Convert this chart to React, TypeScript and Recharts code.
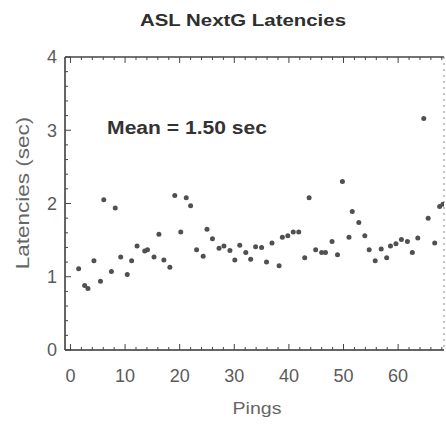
import { Scatter, ScatterChart, XAxis, YAxis } from 'recharts'

// ping index and latency in seconds
const pings = [
	1.5, 2.6, 3.2, 4.3, 5.5, 6.1, 7.5, 8.2, 9.2, 10.4, 11.2, 12.2, 13.6, 14.1, 15.3,
	16.2, 17.1, 18.2, 19.1, 20.2, 21.2, 22.0, 23.1, 24.3, 25.0, 26.0, 27.2, 28.1, 29.2,
	30.1, 31.0, 32.1, 33.0, 33.9, 35.0, 35.9, 36.9, 38.2, 38.8, 39.8, 40.8, 41.8, 42.9,
	43.7, 44.9, 46.0, 46.7, 47.9, 48.9, 49.8, 51.0, 51.6, 52.8, 53.9, 54.7, 55.8, 56.9,
	57.9, 58.6, 59.6, 60.6, 61.7, 62.6, 63.6, 64.7, 65.5, 66.7, 67.6, 68.2,
]
const latencies = [
	1.11, 0.88, 0.84, 1.22, 0.94, 2.05, 1.07, 1.94, 1.27, 1.03, 1.22, 1.42, 1.35, 1.37,
	1.27, 1.58, 1.23, 1.13, 2.11, 1.61, 2.08, 1.97, 1.37, 1.28, 1.65, 1.52, 1.39, 1.42,
	1.36, 1.23, 1.43, 1.33, 1.24, 1.41, 1.4, 1.2, 1.46, 1.15, 1.54, 1.56, 1.61, 1.61,
	1.26, 2.08, 1.37, 1.33, 1.33, 1.48, 1.3, 2.3, 1.54, 1.89, 1.74, 1.56, 1.37, 1.22,
	1.38, 1.26, 1.42, 1.45, 1.51, 1.48, 1.33, 1.53, 3.16, 1.8, 1.46, 1.96, 1.99,
]

const xTicks = [0, 10, 20, 30, 40, 50, 60]
const yTicks = [0, 1, 2, 3, 4]
const xMinor = Array.from({ length: 35 }, (_, i) => i * 2)
const yMinor = Array.from({ length: 21 }, (_, i) => Math.round(i * 2) / 10)

const data = pings.map((p, i) => ({ ping: p, latency: latencies[i] }))

const font = "'Liberation Sans', Arial, sans-serif"
const tickColor = '#5a5a5a'

const isMajor = (v: number, list: number[]) => list.some((t) => Math.abs(t - v) < 1e-6)

function BottomTick(props: any) {
	const { x, y, payload } = props
	const major = isMajor(payload.value, xTicks)
	return (
		<g>
			<line x1={x} x2={x} y1={y} y2={y - (major ? 6 : 3)} stroke='#444' />
			{major && (
				<text x={x} y={y + 19} dy='0.71em' textAnchor='middle' fontSize={18} fill={tickColor} fontFamily={font}>
					{payload.value}
				</text>
			)}
		</g>
	)
}

function TopTick(props: any) {
	const { x, y, payload } = props
	const major = isMajor(payload.value, xTicks)
	return <line x1={x} x2={x} y1={y} y2={y + (major ? 6 : 3)} stroke='#444' />
}

function LeftTick(props: any) {
	const { x, y, payload } = props
	const major = isMajor(payload.value, yTicks)
	return (
		<g>
			<line x1={x} x2={x + (major ? 6 : 3)} y1={y} y2={y} stroke='#444' />
			{major && (
				<text x={x - 8} y={y} dy='0.36em' textAnchor='end' fontSize={18} fill={tickColor} fontFamily={font}>
					{payload.value}
				</text>
			)}
		</g>
	)
}

function RightTick(props: any) {
	const { x, y, payload } = props
	const major = isMajor(payload.value, yTicks)
	return <line x1={x} x2={x - (major ? 6 : 3)} y1={y} y2={y} stroke='#777' />
}

function Dot(props: any) {
	const { cx, cy } = props
	return <circle cx={cx} cy={cy} r={2.5} fill='#505050' />
}

export default function App() {
	return (
		<div style={{ position: 'absolute', left: 0, top: 0, width: 446, height: 427, background: '#fff', fontFamily: font }}>
			<ScatterChart width={446} height={427} margin={{ top: 56, right: 1, bottom: 37, left: 0 }}>
				<XAxis
					xAxisId='b'
					dataKey='ping'
					type='number'
					domain={[-1, 68.4]}
					allowDataOverflow
					ticks={xMinor}
					interval={0}
					tickSize={0}
					tickMargin={0}
					tickLine={false}
					tick={<BottomTick />}
					height={40}
					axisLine={{ stroke: '#333', strokeWidth: 1.5 }}
				/>
				<XAxis
					xAxisId='t'
					orientation='top'
					dataKey='ping'
					type='number'
					domain={[-1, 68.4]}
					allowDataOverflow
					ticks={xMinor}
					interval={0}
					tickSize={0}
					tickMargin={0}
					tickLine={false}
					tick={<TopTick />}
					height={1}
					axisLine={{ stroke: '#444', strokeWidth: 1.5 }}
				/>
				<YAxis
					yAxisId='l'
					dataKey='latency'
					type='number'
					domain={[0, 4]}
					ticks={yMinor}
					interval={0}
					tickSize={0}
					tickMargin={0}
					tickLine={false}
					tick={<LeftTick />}
					width={65}
					axisLine={{ stroke: '#333', strokeWidth: 1.5 }}
				/>
				<YAxis
					yAxisId='r'
					orientation='right'
					dataKey='latency'
					type='number'
					domain={[0, 4]}
					ticks={yMinor}
					interval={0}
					tickSize={0}
					tickMargin={0}
					tickLine={false}
					tick={<RightTick />}
					width={1}
					axisLine={{ stroke: '#888', strokeDasharray: '2 4' }}
				/>
				<Scatter
					xAxisId='b'
					yAxisId='l'
					data={data}
					fill='#505050'
					shape={<Dot />}
					isAnimationActive={false}
				/>
			</ScatterChart>

			<div
				style={{
					position: 'absolute',
					left: 243,
					top: 21,
					transform: 'translate(-50%, -50%) scaleX(1.2)',
					fontSize: 17,
					fontWeight: 'bold',
					color: '#2e2e2e',
					whiteSpace: 'nowrap',
				}}
			>
				ASL NextG Latencies
			</div>
			<div
				style={{
					position: 'absolute',
					left: 187,
					top: 128,
					transform: 'translate(-50%, -50%) scaleX(1.17)',
					fontSize: 18,
					fontWeight: 'bold',
					color: '#333',
					whiteSpace: 'nowrap',
				}}
			>
				Mean = 1.50 sec
			</div>
			<div
				style={{
					position: 'absolute',
					left: 23,
					top: 193,
					transform: 'translate(-50%, -50%) rotate(-90deg) scaleX(1.25)',
					fontSize: 18,
					color: '#666',
					whiteSpace: 'nowrap',
				}}
			>
				Latencies (sec)
			</div>
			<div
				style={{
					position: 'absolute',
					left: 257,
					top: 409,
					transform: 'translate(-50%, -50%) scaleX(1.15)',
					fontSize: 17,
					color: '#666',
					whiteSpace: 'nowrap',
				}}
			>
				Pings
			</div>
		</div>
	)
}
